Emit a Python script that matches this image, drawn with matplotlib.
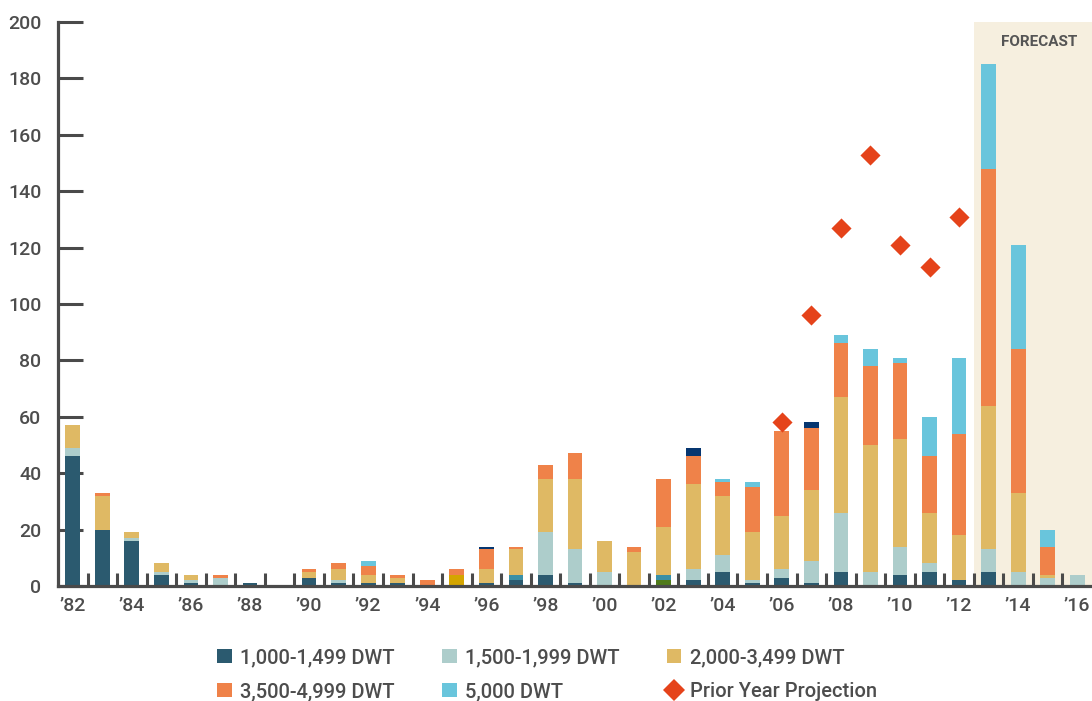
import numpy as np
import matplotlib
matplotlib.use("Agg")
import matplotlib.pyplot as plt
from matplotlib.patches import Patch
from matplotlib.lines import Line2D

plt.rcParams['font.family'] = ['Roboto', 'DejaVu Sans']
plt.rcParams['font.weight'] = 'medium'

# ---- data -------------------------------------------------------------
years = list(range(1982, 2017))

dwt_1000_1499 = [46, 20, 16, 4, 1, 0, 1, 0, 3, 1, 1, 1, 0, 0, 1, 2, 4, 1, 0, 0,
                 0, 2, 5, 1, 3, 1, 5, 0, 4, 5, 2, 5, 0, 0, 0]
dwt_1500_1999 = [3, 0, 1, 1, 1, 3, 0, 0, 0, 1, 0, 0, 0, 0, 0, 0, 15, 12, 5, 0,
                 0, 4, 6, 1, 3, 8, 21, 5, 10, 3, 0, 8, 5, 3, 4]
dwt_2000_3499 = [8, 12, 2, 3, 2, 0, 0, 0, 2, 4, 3, 2, 0, 0, 5, 9, 19, 25, 11, 12,
                 17, 30, 21, 17, 19, 25, 41, 45, 38, 18, 16, 51, 28, 1, 0]
dwt_3500_4999 = [0, 1, 0, 0, 0, 1, 0, 0, 1, 2, 3, 1, 2, 2, 7, 1, 5, 9, 0, 2,
                 17, 10, 5, 16, 30, 22, 19, 28, 27, 20, 36, 84, 51, 10, 0]
dwt_5000 = [0, 0, 0, 0, 0, 0, 0, 0, 0, 0, 2, 0, 0, 0, 0, 0, 0, 0, 0, 0,
            0, 0, 1, 2, 0, 0, 3, 6, 2, 14, 27, 37, 37, 6, 0]

# unlabelled segments
other_green = [0] * 20 + [2] + [0] * 14
other_teal = [0] * 15 + [2, 0, 0, 0, 0, 2] + [0] * 14
other_gold = [0] * 13 + [4] + [0] * 21
other_navy = [0] * 14 + [1] + [0] * 6 + [3, 0, 0, 0, 2] + [0] * 9

prior_year_projection = [np.nan] * 24 + [58, 96, 127, 153, 121, 113, 131] + [np.nan] * 4

y_ticks = list(range(0, 201, 20))
x_label_years = list(range(1982, 2017, 2))
x_labels = ["\u2019" + str(y)[2:] for y in x_label_years]

legend_labels = ["1,000-1,499 DWT", "1,500-1,999 DWT", "2,000-3,499 DWT",
                 "3,500-4,999 DWT", "5,000 DWT", "Prior Year Projection"]

# ---- style ------------------------------------------------------------
C_DARK = "#2B5A6F"
C_LIGHT = "#ADCDCB"
C_YELLOW = "#DFB964"
C_ORANGE = "#EF8249"
C_BLUE = "#69C5DC"
C_DIAMOND = "#E5431A"
C_NAVY = "#063670"
C_TEAL = "#3A8FA6"
C_GOLD = "#D4A500"
C_GREEN = "#4F7A1A"
C_AXIS = "#4A4A4A"
C_TEXT = "#4D4D4D"
C_FORECAST = "#F6EFDF"

fig = plt.figure(figsize=(10.92, 7.01), dpi=100)
ax = fig.add_axes([58 / 1092, 1 - 586 / 701, 1 - 58 / 1092, (586 - 22) / 701])

x = np.array(years, dtype=float)
width = 0.5

stack = [
    (other_green, C_GREEN),
    (dwt_1000_1499, C_DARK),
    (other_teal, C_TEAL),
    (dwt_1500_1999, C_LIGHT),
    (other_gold, C_GOLD),
    (dwt_2000_3499, C_YELLOW),
    (dwt_3500_4999, C_ORANGE),
    (dwt_5000, C_BLUE),
    (other_navy, C_NAVY),
]
bottom = np.zeros(len(years))
for values, color in stack:
    v = np.array(values, dtype=float)
    ax.bar(x, v, width=width, bottom=bottom, color=color, linewidth=0, zorder=2)
    bottom += v

ax.scatter(x, prior_year_projection, marker="D", s=105, color=C_DIAMOND,
           linewidths=0, zorder=4)

# forecast region
ax.axvspan(2012.5, 2016.5, color=C_FORECAST, linewidth=0, zorder=0)
ax.text(2014.72, 193, "FORECAST", ha="center", va="center", fontsize=11,
        fontweight="semibold", color="#555555", zorder=3)

ax.set_xlim(1981.5, 2016.5)
ax.set_ylim(0, 200)

for side in ("top", "right"):
    ax.spines[side].set_visible(False)
for side in ("left", "bottom"):
    ax.spines[side].set_color(C_AXIS)
    ax.spines[side].set_linewidth(2.3)
    ax.spines[side].set_zorder(5)

ax.set_yticks(y_ticks)
ax.tick_params(axis="y", direction="in", length=18, width=2.2, color=C_AXIS,
               labelsize=14, labelcolor=C_TEXT, pad=12)

ax.set_xticks(x_label_years)
ax.set_xticklabels(x_labels)
ax.set_xticks(np.arange(1982.5, 2016.0, 1.0), minor=True)
ax.tick_params(axis="x", which="major", length=0, labelsize=14,
               labelcolor=C_TEXT, pad=8)
ax.tick_params(axis="x", which="minor", direction="in", length=9.5, width=2.2,
               color=C_AXIS)

# legend, filled row by row
colors = [C_DARK, C_LIGHT, C_YELLOW, C_ORANGE, C_BLUE]
handles = [Patch(facecolor=c, edgecolor="none") for c in colors]
handles.append(Line2D([], [], marker="D", color=C_DIAMOND, linestyle="none",
                      markersize=11, markeredgewidth=0))
order = [0, 3, 1, 4, 2, 5]
leg = fig.legend([handles[i] for i in order], [legend_labels[i] for i in order],
                 ncol=3, loc="upper left",
                 bbox_to_anchor=(217 / 1092, 1 - 648 / 701),
                 frameon=False, fontsize=14.5, handlelength=0.74,
                 handleheight=0.74, handletextpad=0.4, columnspacing=2.35,
                 labelspacing=0.75, borderpad=0, borderaxespad=0)
for t in leg.get_texts():
    t.set_color(C_TEXT)

fig.savefig("out.png", dpi=100)
